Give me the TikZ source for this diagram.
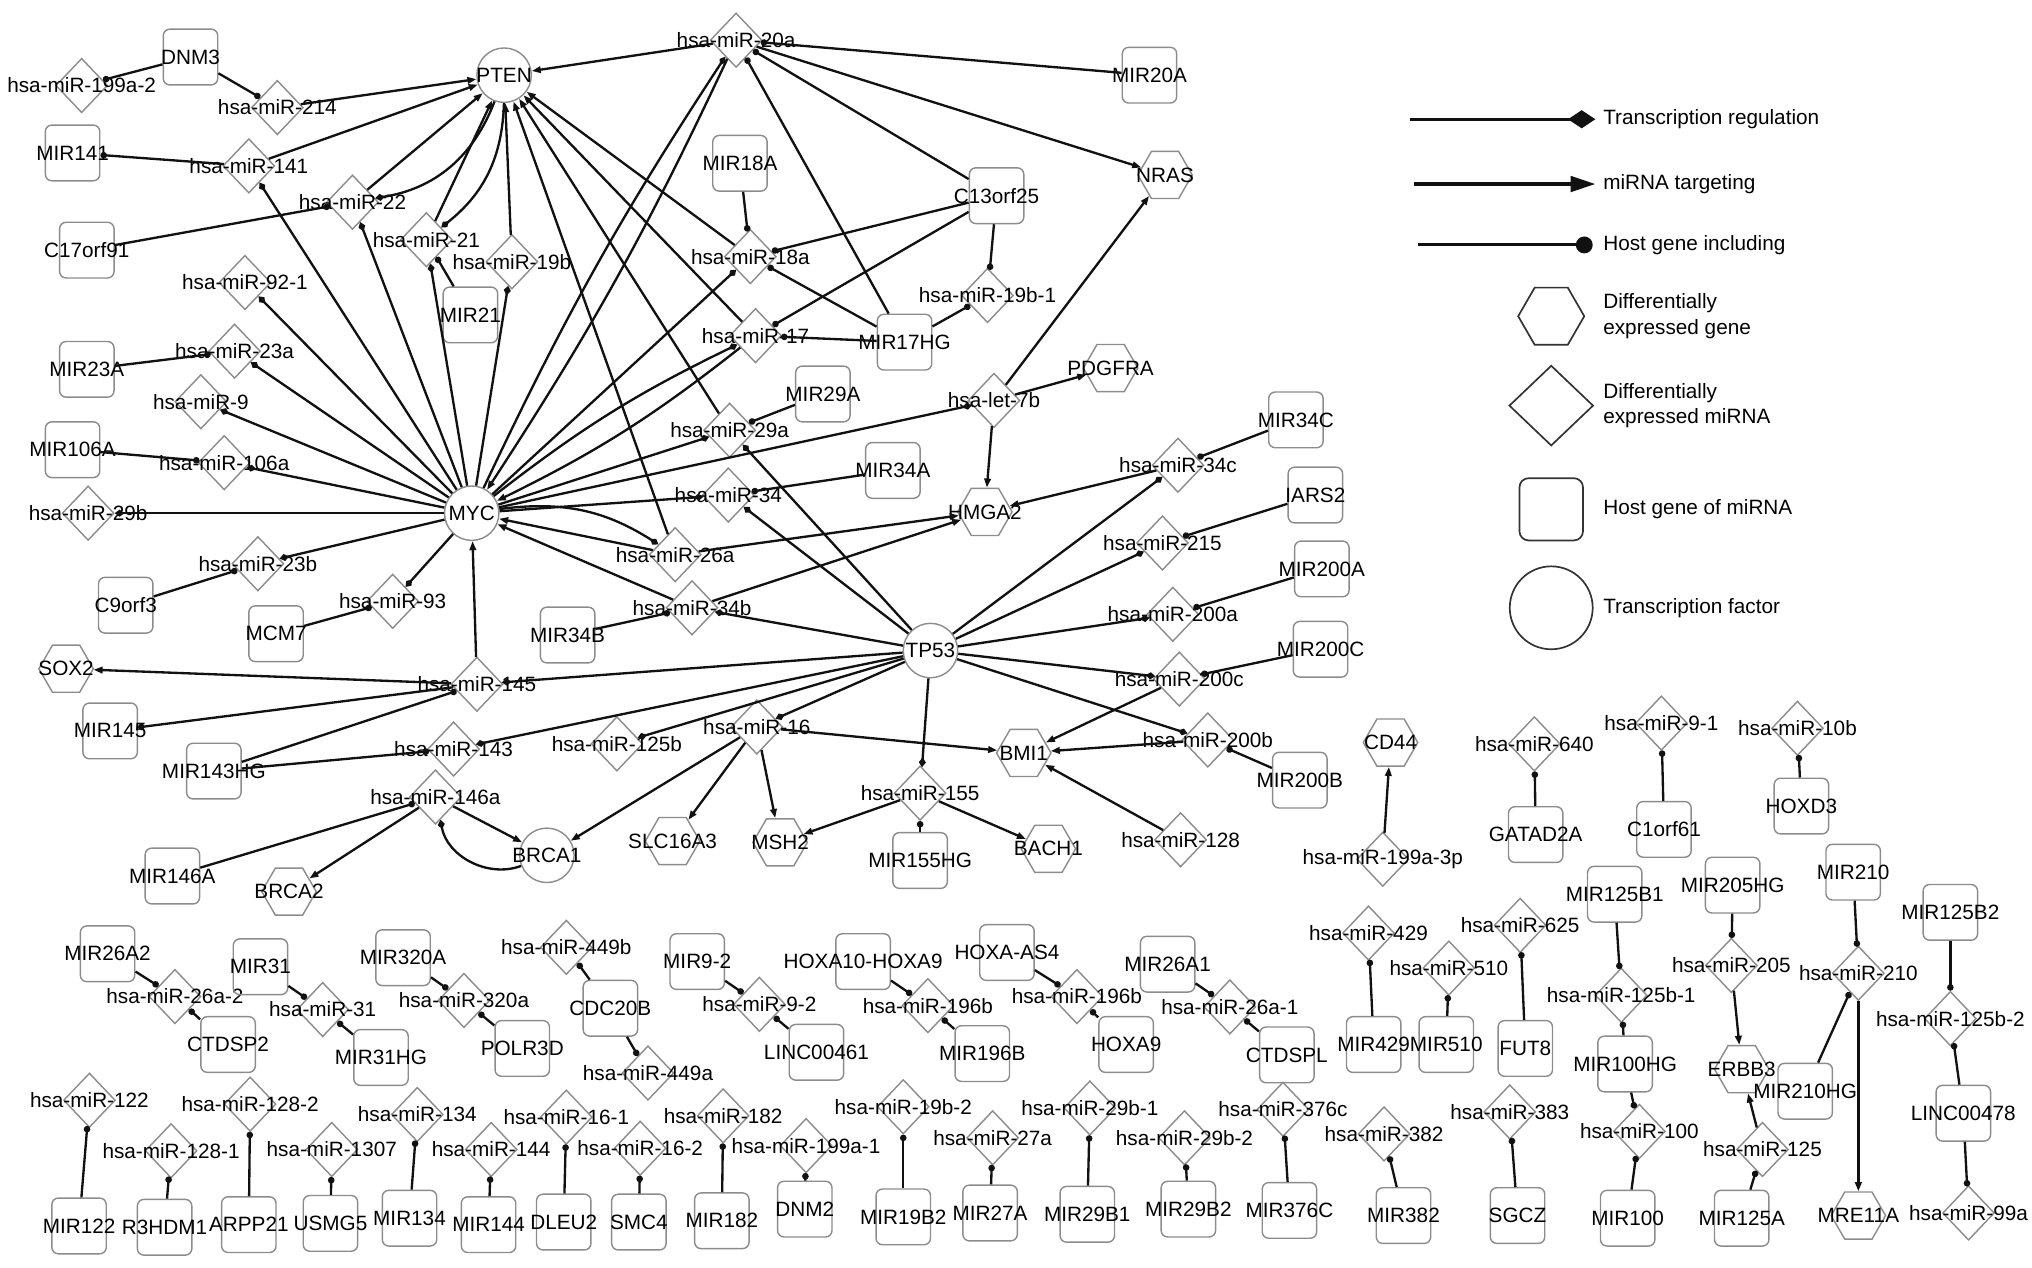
\documentclass[tikz,border=0pt]{standalone}
\usepackage{fontspec}
\setmainfont{Liberation Sans}
\usetikzlibrary{arrows.meta,shapes.geometric}
\definecolor{NodeGray}{HTML}{8C8C8C}
\definecolor{EdgeBlack}{HTML}{111111}
\newcommand{\ctxt}[1]{\makebox[0pt]{#1}}

\begin{document}
\begin{tikzpicture}[
  x=1pt, y=-1pt,
  font=\fontsize{16}{20}\selectfont,
  mirna/.style={diamond, draw=NodeGray, line width=1.1pt, minimum width=40pt, minimum height=42pt, inner sep=0pt},
  hostg/.style={rectangle, draw=NodeGray, line width=1.1pt, rounded corners=5pt, minimum width=42pt, minimum height=43pt, inner sep=0pt},
  tfac/.style={circle, draw=NodeGray, line width=1.1pt, minimum size=42pt, inner sep=0pt},
  deg/.style={regular polygon, regular polygon sides=6, draw=NodeGray, line width=1.1pt, minimum size=42pt, inner sep=0pt},
  reg/.style={-{Diamond[length=7.5pt,width=5.5pt]}, line width=1.8pt, EdgeBlack},
  tgt/.style={-{Triangle[length=7pt,width=5pt]}, line width=1.8pt, EdgeBlack},
  incl/.style={-{Circle[length=5pt]}, line width=1.8pt, EdgeBlack},
  lgline/.style={line width=2.4pt, EdgeBlack},
  lgshape/.style={draw=black!80, line width=1.3pt},
  lgtext/.style={anchor=west, align=left, inner sep=0pt}
]
\useasboundingbox (0,0) rectangle (1568,978);

% main network
\node[mirna] (m199a2) at (63,66) {\ctxt{hsa-miR-199a-2}};
\node[hostg] (DNM3) at (147,44) {\ctxt{DNM3}};
\node[mirna] (m214) at (214,83) {\ctxt{hsa-miR-214}};
\node[tfac] (PTEN) at (389,58) {\ctxt{PTEN}};
\node[hostg] (MIR141) at (56,118) {\ctxt{MIR141}};
\node[mirna] (m141) at (192,128) {\ctxt{hsa-miR-141}};
\node[hostg] (C17orf91) at (67,193) {\ctxt{C17orf91}};
\node[mirna] (m22) at (272,156) {\ctxt{hsa-miR-22}};
\node[mirna] (m21) at (329,185) {\ctxt{hsa-miR-21}};
\node[mirna] (m19b) at (395,202) {\ctxt{hsa-miR-19b}};
\node[hostg] (MIR21) at (363,243) {\ctxt{MIR21}};
\node[mirna] (m92p1) at (189,218) {\ctxt{hsa-miR-92-1}};
\node[mirna] (m20a) at (568,31) {\ctxt{hsa-miR-20a}};
\node[hostg] (MIR20A) at (887,58) {\ctxt{MIR20A}};
\node[deg] (NRAS) at (899,135) {\ctxt{NRAS}};
\node[hostg] (MIR18A) at (571,126) {\ctxt{MIR18A}};
\node[mirna] (m18a) at (579,198) {\ctxt{hsa-miR-18a}};
\node[hostg] (C13orf25) at (769,151) {\ctxt{C13orf25}};
\node[mirna] (m19b1) at (762,228) {\ctxt{hsa-miR-19b-1}};
\node[mirna] (m17) at (583,259) {\ctxt{hsa-miR-17}};
\node[hostg] (MIR17HG) at (698,264) {\ctxt{MIR17HG}};
\node[hostg] (MIR29A) at (635,304) {\ctxt{MIR29A}};
\node[mirna] (m29a) at (563,332) {\ctxt{hsa-miR-29a}};
\node[mirna] (let7b) at (767,309) {\ctxt{hsa-let-7b}};
\node[deg] (PDGFRA) at (857,284) {\ctxt{PDGFRA}};
\node[hostg] (MIR34A) at (689,363) {\ctxt{MIR34A}};
\node[mirna] (m34) at (562,382) {\ctxt{hsa-miR-34}};
\node[deg] (HMGA2) at (760,395) {\ctxt{HMGA2}};
\node[tfac] (MYC) at (364,396) {\ctxt{MYC}};
\node[mirna] (m26a) at (521,428) {\ctxt{hsa-miR-26a}};
\node[mirna] (m34b) at (534,469) {\ctxt{hsa-miR-34b}};
\node[hostg] (MIR34B) at (438,490) {\ctxt{MIR34B}};
\node[tfac] (TP53) at (718,502) {\ctxt{TP53}};
\node[hostg] (MIR34C) at (1000,324) {\ctxt{MIR34C}};
\node[mirna] (m34c) at (909,359) {\ctxt{hsa-miR-34c}};
\node[hostg] (IARS2) at (1015,382) {\ctxt{IARS2}};
\node[mirna] (m215) at (897,419) {\ctxt{hsa-miR-215}};
\node[hostg] (MIR200A) at (1020,439) {\ctxt{MIR200A}};
\node[mirna] (m200a) at (905,474) {\ctxt{hsa-miR-200a}};
\node[hostg] (MIR200C) at (1019,501) {\ctxt{MIR200C}};
\node[mirna] (m200c) at (910,524) {\ctxt{hsa-miR-200c}};
\node[mirna] (m200b) at (932,571) {\ctxt{hsa-miR-200b}};
\node[hostg] (MIR200B) at (1003,602) {\ctxt{MIR200B}};
\node[deg] (BMI1) at (790,581) {\ctxt{BMI1}};
\node[mirna] (m128) at (911,648) {\ctxt{hsa-miR-128}};
\node[deg] (BACH1) at (809,655) {\ctxt{BACH1}};
\node[deg] (CD44) at (1073,573) {\ctxt{CD44}};
\node[mirna] (m199a3p) at (1067,663) {\ctxt{hsa-miR-199a-3p}};
\node[hostg] (MIR23A) at (67,285) {\ctxt{MIR23A}};
\node[mirna] (m23a) at (181,271) {\ctxt{hsa-miR-23a}};
\node[mirna] (m9) at (155,310) {\ctxt{hsa-miR-9}};
\node[hostg] (MIR106A) at (56,347) {\ctxt{MIR106A}};
\node[mirna] (m106a) at (173,357) {\ctxt{hsa-miR-106a}};
\node[mirna] (m29b) at (68,396) {\ctxt{hsa-miR-29b}};
\node[mirna] (m23b) at (199,435) {\ctxt{hsa-miR-23b}};
\node[hostg] (C9orf3) at (97,467) {\ctxt{C9orf3}};
\node[mirna] (m93) at (303,464) {\ctxt{hsa-miR-93}};
\node[hostg] (MCM7) at (213,489) {\ctxt{MCM7}};
\node[deg] (SOX2) at (51,516) {\ctxt{SOX2}};
\node[mirna] (m145) at (368,528) {\ctxt{hsa-miR-145}};
\node[hostg] (MIR145) at (85,564) {\ctxt{MIR145}};
\node[hostg] (MIR143HG) at (165,595) {\ctxt{MIR143HG}};
\node[mirna] (m143) at (350,578) {\ctxt{hsa-miR-143}};
\node[mirna] (m146a) at (336,615) {\ctxt{hsa-miR-146a}};
\node[hostg] (MIR146A) at (133,676) {\ctxt{MIR146A}};
\node[deg] (BRCA2) at (223,688) {\ctxt{BRCA2}};
\node[tfac] (BRCA1) at (422,660) {\ctxt{BRCA1}};
\node[mirna] (m125b) at (476,574) {\ctxt{hsa-miR-125b}};
\node[mirna] (m16) at (584,561) {\ctxt{hsa-miR-16}};
\node[deg] (SLC16A3) at (519,649) {\ctxt{SLC16A3}};
\node[deg] (MSH2) at (602,650) {\ctxt{MSH2}};
\node[mirna] (m155) at (710,612) {\ctxt{hsa-miR-155}};
\node[hostg] (MIR155HG) at (710,664) {\ctxt{MIR155HG}};

\draw[incl] (DNM3) -- (m199a2);
\draw[incl] (DNM3) -- (m214);
\draw[incl] (m141) -- (MIR141);
\draw[incl] (C17orf91) -- (m22);
\draw[incl] (MIR21) -- (m21);
\draw[incl] (MIR20A) -- (m20a);
\draw[incl] (C13orf25) -- (m20a);
\draw[incl] (MIR17HG) -- (m20a);
\draw[incl] (MIR18A) -- (m18a);
\draw[incl] (C13orf25) -- (m18a);
\draw[incl] (MIR17HG) -- (m18a);
\draw[incl] (C13orf25) -- (m17);
\draw[incl] (MIR17HG) -- (m17);
\draw[incl] (C13orf25) -- (m19b1);
\draw[incl] (MIR17HG) -- (m19b1);
\draw[incl] (MIR29A) -- (m29a);
\draw[incl] (MIR34A) -- (m34);
\draw[incl] (MIR34B) -- (m34b);
\draw[incl] (MIR34C) -- (m34c);
\draw[incl] (IARS2) -- (m215);
\draw[incl] (MIR200A) -- (m200a);
\draw[incl] (MIR200C) -- (m200c);
\draw[incl] (MIR200B) -- (m200b);
\draw[incl] (MIR155HG) -- (m155);
\draw[incl] (MIR23A) -- (m23a);
\draw[incl] (MIR106A) -- (m106a);
\draw[incl] (C9orf3) -- (m23b);
\draw[incl] (MCM7) -- (m93);
\draw[incl] (m145) -- (MIR145);
\draw[incl] (MIR143HG) -- (m145);
\draw[incl] (MIR143HG) -- (m143);
\draw[incl] (MIR146A) -- (m146a);

\draw[tgt] (m214) -- (PTEN);
\draw[tgt] (m141) -- (PTEN);
\draw[tgt] (m22) -- (PTEN);
\draw[tgt] (m21) -- (PTEN);
\draw[tgt] (m19b) -- (PTEN);
\draw[tgt] (m20a) -- (PTEN);
\draw[tgt] (m18a) -- (PTEN);
\draw[tgt] (m17) -- (PTEN);
\draw[tgt] (m29a) -- (PTEN);
\draw[tgt] (m26a) -- (PTEN);
\draw[tgt] (m20a) -- (NRAS);
\draw[tgt] (let7b) -- (NRAS);
\draw[tgt] (let7b) -- (PDGFRA);
\draw[tgt] (let7b) -- (HMGA2);
\draw[tgt] (m26a) -- (MYC);
\draw[tgt] (m26a) -- (HMGA2);
\draw[tgt] (m34b) -- (MYC);
\draw[tgt] (m34b) -- (HMGA2);
\draw[tgt] (m34c) -- (HMGA2);
\draw[tgt] (m200c) -- (BMI1);
\draw[tgt] (m200b) -- (BMI1);
\draw[tgt] (m128) -- (BMI1);
\draw[tgt] (m16) -- (BMI1);
\draw[tgt] (m155) -- (MSH2);
\draw[tgt] (m155) -- (BACH1);
\draw[tgt] (m16) -- (BRCA1);
\draw[tgt] (m16) -- (SLC16A3);
\draw[tgt] (m16) -- (MSH2);
\draw[tgt] (m145) -- (SOX2);
\draw[tgt] (m145) -- (MYC);
\draw[tgt] (m146a) -- (BRCA2);
\draw[tgt] (m146a) -- (BRCA1);
\draw[tgt] (m199a3p) -- (CD44);
\draw[tgt] (m20a) to[bend left=4] (MYC);
\draw[tgt] (m17) to[bend left=6] (MYC);

\draw[reg] (PTEN) to[bend left=30] (m22);
\draw[reg] (PTEN) to[bend left=25] (m21);
\draw[reg] (MYC) -- (m141);
\draw[reg] (MYC) -- (m22);
\draw[reg] (MYC) -- (m21);
\draw[reg] (MYC) -- (m19b);
\draw[reg] (MYC) -- (m92p1);
\draw[reg] (MYC) -- (m23a);
\draw[reg] (MYC) -- (m9);
\draw[reg] (MYC) -- (m106a);
\draw[reg] (MYC) -- (m29b);
\draw[reg] (MYC) -- (m23b);
\draw[reg] (MYC) -- (m93);
\draw[reg] (MYC) to[bend left=4] (m20a);
\draw[reg] (MYC) to[bend left=6] (m17);
\draw[reg] (MYC) -- (m18a);
\draw[reg] (MYC) -- (m29a);
\draw[reg] (MYC) -- (let7b);
\draw[reg] (MYC) -- (m34);
\draw[reg] (MYC) to[bend left=20] (m26a);
\draw[reg] (TP53) -- (m29a);
\draw[reg] (TP53) -- (m34);
\draw[reg] (TP53) -- (m34b);
\draw[reg] (TP53) -- (m34c);
\draw[reg] (TP53) -- (m215);
\draw[reg] (TP53) -- (m200a);
\draw[reg] (TP53) -- (m200c);
\draw[reg] (TP53) -- (m200b);
\draw[reg] (TP53) -- (m155);
\draw[reg] (TP53) -- (m16);
\draw[reg] (TP53) -- (m125b);
\draw[reg] (TP53) -- (m143);
\draw[reg] (TP53) -- (m145);
\draw[reg] (BRCA1) to[bend left=50] (m146a);

% host gene pairs, first row
\node[hostg] (MIR26A2) at (83,736) {\ctxt{MIR26A2}};
\node[mirna] (m26a2) at (135,769) {\ctxt{hsa-miR-26a-2}};
\node[hostg] (CTDSP2) at (176,806) {\ctxt{CTDSP2}};
\node[hostg] (MIR31) at (201,746) {\ctxt{MIR31}};
\node[mirna] (m31) at (249,779) {\ctxt{hsa-miR-31}};
\node[hostg] (MIR31HG) at (294,816) {\ctxt{MIR31HG}};
\node[hostg] (MIR320A) at (311,739) {\ctxt{MIR320A}};
\node[mirna] (m320a) at (358,772) {\ctxt{hsa-miR-320a}};
\node[hostg] (POLR3D) at (403,809) {\ctxt{POLR3D}};
\node[mirna] (m449b) at (437,731) {\ctxt{hsa-miR-449b}};
\node[hostg] (CDC20B) at (471,778) {\ctxt{CDC20B}};
\node[mirna] (m449a) at (500,828) {\ctxt{hsa-miR-449a}};
\node[hostg] (MIR92) at (538,742) {\ctxt{MIR9-2}};
\node[mirna] (m9p2) at (586,775) {\ctxt{hsa-miR-9-2}};
\node[hostg] (LINC00461) at (630,812) {\ctxt{LINC00461}};
\node[hostg] (HOXA10HOXA9) at (666,742) {\ctxt{HOXA10-HOXA9}};
\node[mirna] (m196bA) at (716,776) {\ctxt{hsa-miR-196b}};
\node[hostg] (MIR196B) at (758,813) {\ctxt{MIR196B}};
\node[hostg] (HOXAAS4) at (777,735) {\ctxt{HOXA-AS4}};
\node[mirna] (m196bB) at (831,769) {\ctxt{hsa-miR-196b}};
\node[hostg] (HOXA9) at (869,806) {\ctxt{HOXA9}};
\node[hostg] (MIR26A1) at (901,744) {\ctxt{MIR26A1}};
\node[mirna] (m26a1) at (949,777) {\ctxt{hsa-miR-26a-1}};
\node[hostg] (CTDSPL) at (993,814) {\ctxt{CTDSPL}};

\draw[incl] (MIR26A2) -- (m26a2);
\draw[incl] (CTDSP2) -- (m26a2);
\draw[incl] (MIR31) -- (m31);
\draw[incl] (MIR31HG) -- (m31);
\draw[incl] (MIR320A) -- (m320a);
\draw[incl] (POLR3D) -- (m320a);
\draw[incl] (CDC20B) -- (m449b);
\draw[incl] (CDC20B) -- (m449a);
\draw[incl] (MIR92) -- (m9p2);
\draw[incl] (LINC00461) -- (m9p2);
\draw[incl] (HOXA10HOXA9) -- (m196bA);
\draw[incl] (MIR196B) -- (m196bA);
\draw[incl] (HOXAAS4) -- (m196bB);
\draw[incl] (HOXA9) -- (m196bB);
\draw[incl] (MIR26A1) -- (m26a1);
\draw[incl] (CTDSPL) -- (m26a1);

% host gene pairs, second row
\node[mirna] (m122) at (69,849) {\ctxt{hsa-miR-122}};
\node[hostg] (MIR122) at (61,946) {\ctxt{MIR122}};
\node[mirna] (m1281) at (132,888) {\ctxt{hsa-miR-128-1}};
\node[hostg] (R3HDM1) at (127,947) {\ctxt{R3HDM1}};
\node[mirna] (m1282) at (193,852) {\ctxt{hsa-miR-128-2}};
\node[hostg] (ARPP21) at (192,945) {\ctxt{ARPP21}};
\node[mirna] (m1307) at (256,887) {\ctxt{hsa-miR-1307}};
\node[hostg] (USMG5) at (255,944) {\ctxt{USMG5}};
\node[mirna] (m134) at (322,860) {\ctxt{hsa-miR-134}};
\node[hostg] (MIR134) at (316,940) {\ctxt{MIR134}};
\node[mirna] (m144) at (379,887) {\ctxt{hsa-miR-144}};
\node[hostg] (MIR144) at (377,945) {\ctxt{MIR144}};
\node[mirna] (m161) at (437,862) {\ctxt{hsa-miR-16-1}};
\node[hostg] (DLEU2) at (435,943) {\ctxt{DLEU2}};
\node[mirna] (m162) at (494,886) {\ctxt{hsa-miR-16-2}};
\node[hostg] (SMC4) at (493,943) {\ctxt{SMC4}};
\node[mirna] (m182) at (558,861) {\ctxt{hsa-miR-182}};
\node[hostg] (MIR182) at (557,942) {\ctxt{MIR182}};
\node[mirna] (m199a1) at (622,884) {\ctxt{hsa-miR-199a-1}};
\node[hostg] (DNM2) at (621,933) {\ctxt{DNM2}};
\node[mirna] (m19b2) at (697,854) {\ctxt{hsa-miR-19b-2}};
\node[hostg] (MIR19B2) at (697,939) {\ctxt{MIR19B2}};
\node[mirna] (m27a) at (766,878) {\ctxt{hsa-miR-27a}};
\node[hostg] (MIR27A) at (764,936) {\ctxt{MIR27A}};
\node[mirna] (m29b1) at (841,855) {\ctxt{hsa-miR-29b-1}};
\node[hostg] (MIR29B1) at (839,937) {\ctxt{MIR29B1}};
\node[mirna] (m29b2) at (914,878) {\ctxt{hsa-miR-29b-2}};
\node[hostg] (MIR29B2) at (917,933) {\ctxt{MIR29B2}};
\node[mirna] (m376c) at (990,856) {\ctxt{hsa-miR-376c}};
\node[hostg] (MIR376C) at (995,934) {\ctxt{MIR376C}};

\draw[incl] (MIR122) -- (m122);
\draw[incl] (R3HDM1) -- (m1281);
\draw[incl] (ARPP21) -- (m1282);
\draw[incl] (USMG5) -- (m1307);
\draw[incl] (MIR134) -- (m134);
\draw[incl] (MIR144) -- (m144);
\draw[incl] (DLEU2) -- (m161);
\draw[incl] (SMC4) -- (m162);
\draw[incl] (MIR182) -- (m182);
\draw[incl] (DNM2) -- (m199a1);
\draw[incl] (MIR19B2) -- (m19b2);
\draw[incl] (MIR27A) -- (m27a);
\draw[incl] (MIR29B1) -- (m29b1);
\draw[incl] (MIR29B2) -- (m29b2);
\draw[incl] (MIR376C) -- (m376c);

% right cluster
\node[mirna] (m640) at (1184,574) {\ctxt{hsa-miR-640}};
\node[hostg] (GATAD2A) at (1185,644) {\ctxt{GATAD2A}};
\node[mirna] (m9p1) at (1282,558) {\ctxt{hsa-miR-9-1}};
\node[hostg] (C1orf61) at (1284,640) {\ctxt{C1orf61}};
\node[mirna] (m10b) at (1387,562) {\ctxt{hsa-miR-10b}};
\node[hostg] (HOXD3) at (1390,622) {\ctxt{HOXD3}};
\node[mirna] (m429) at (1056,720) {\ctxt{hsa-miR-429}};
\node[hostg] (MIR429) at (1060,806) {\ctxt{MIR429}};
\node[mirna] (m510) at (1118,747) {\ctxt{hsa-miR-510}};
\node[hostg] (MIR510) at (1116,806) {\ctxt{MIR510}};
\node[mirna] (m625) at (1173,714) {\ctxt{hsa-miR-625}};
\node[hostg] (FUT8) at (1177,809) {\ctxt{FUT8}};
\node[hostg] (MIR125B1) at (1246,690) {\ctxt{MIR125B1}};
\node[mirna] (m125b1) at (1251,768) {\ctxt{hsa-miR-125b-1}};
\node[hostg] (MIR100HG) at (1254,821) {\ctxt{MIR100HG}};
\node[mirna] (m100) at (1265,873) {\ctxt{hsa-miR-100}};
\node[hostg] (MIR100) at (1256,940) {\ctxt{MIR100}};
\node[hostg] (MIR205HG) at (1337,683) {\ctxt{MIR205HG}};
\node[mirna] (m205) at (1336,745) {\ctxt{hsa-miR-205}};
\node[deg] (ERBB3) at (1344,825) {\ctxt{ERBB3}};
\node[mirna] (m125) at (1360,887) {\ctxt{hsa-miR-125}};
\node[hostg] (MIR125A) at (1344,940) {\ctxt{MIR125A}};
\node[hostg] (MIR210) at (1430,673) {\ctxt{MIR210}};
\node[mirna] (m210) at (1434,751) {\ctxt{hsa-miR-210}};
\node[hostg] (MIR210HG) at (1393,842) {\ctxt{MIR210HG}};
\node[deg] (MRE11A) at (1434,938) {\ctxt{MRE11A}};
\node[hostg] (MIR125B2) at (1505,704) {\ctxt{MIR125B2}};
\node[mirna] (m125b2) at (1505,786) {\ctxt{hsa-miR-125b-2}};
\node[hostg] (LINC00478) at (1515,859) {\ctxt{LINC00478}};
\node[mirna] (m99a) at (1519,936) {\ctxt{hsa-miR-99a}};
\node[mirna] (m382) at (1068,875) {\ctxt{hsa-miR-382}};
\node[hostg] (MIR382) at (1083,938) {\ctxt{MIR382}};
\node[mirna] (m383) at (1165,858) {\ctxt{hsa-miR-383}};
\node[hostg] (SGCZ) at (1171,938) {\ctxt{SGCZ}};

\draw[incl] (GATAD2A) -- (m640);
\draw[incl] (C1orf61) -- (m9p1);
\draw[incl] (HOXD3) -- (m10b);
\draw[incl] (MIR429) -- (m429);
\draw[incl] (MIR510) -- (m510);
\draw[incl] (FUT8) -- (m625);
\draw[incl] (MIR125B1) -- (m125b1);
\draw[incl] (MIR100HG) -- (m125b1);
\draw[incl] (MIR100HG) -- (m100);
\draw[incl] (MIR100) -- (m100);
\draw[incl] (MIR205HG) -- (m205);
\draw[tgt] (m205) -- (ERBB3);
\draw[tgt] (m125) -- (ERBB3);
\draw[incl] (MIR125A) -- (m125);
\draw[incl] (MIR210) -- (m210);
\draw[incl] (MIR210HG) -- (m210);
\draw[tgt] (m210) -- (MRE11A);
\draw[incl] (MIR125B2) -- (m125b2);
\draw[incl] (LINC00478) -- (m125b2);
\draw[incl] (LINC00478) -- (m99a);
\draw[incl] (MIR382) -- (m382);
\draw[incl] (SGCZ) -- (m383);

% legend
\coordinate (lg1a) at (1088,92);
\coordinate (lg1b) at (1231,92);
\coordinate (lg2a) at (1091,142);
\coordinate (lg2b) at (1231,142);
\coordinate (lg3a) at (1094,189);
\coordinate (lg3b) at (1229,189);
\draw[lgline, -{Diamond[length=21pt,width=14pt]}] (lg1a) -- (lg1b);
\draw[lgline, -{Triangle[length=19pt,width=12pt]}] (lg2a) -- (lg2b);
\draw[lgline, -{Circle[length=13pt]}] (lg3a) -- (lg3b);
\node[lgtext] (lgt1) at (1237,92) {Transcription regulation};
\node[lgtext] (lgt2) at (1237,142) {miRNA targeting};
\node[lgtext] (lgt3) at (1237,189) {Host gene including};
\node[deg, lgshape, minimum size=51pt] (lgdeg) at (1197,244) {};
\node[mirna, lgshape, minimum width=65pt, minimum height=62pt] (lgmir) at (1197,313) {};
\node[hostg, lgshape, minimum width=49pt, minimum height=48pt, rounded corners=7pt] (lghost) at (1197,393) {};
\node[tfac, lgshape, minimum size=64pt] (lgtf) at (1197,469) {};
\node[lgtext] (lgt4) at (1237,244) {Differentially\\expressed gene};
\node[lgtext] (lgt5) at (1237,313) {Differentially\\expressed miRNA};
\node[lgtext] (lgt6) at (1237,393) {Host gene of miRNA};
\node[lgtext] (lgt7) at (1237,469) {Transcription factor};
\end{tikzpicture}
\end{document}
